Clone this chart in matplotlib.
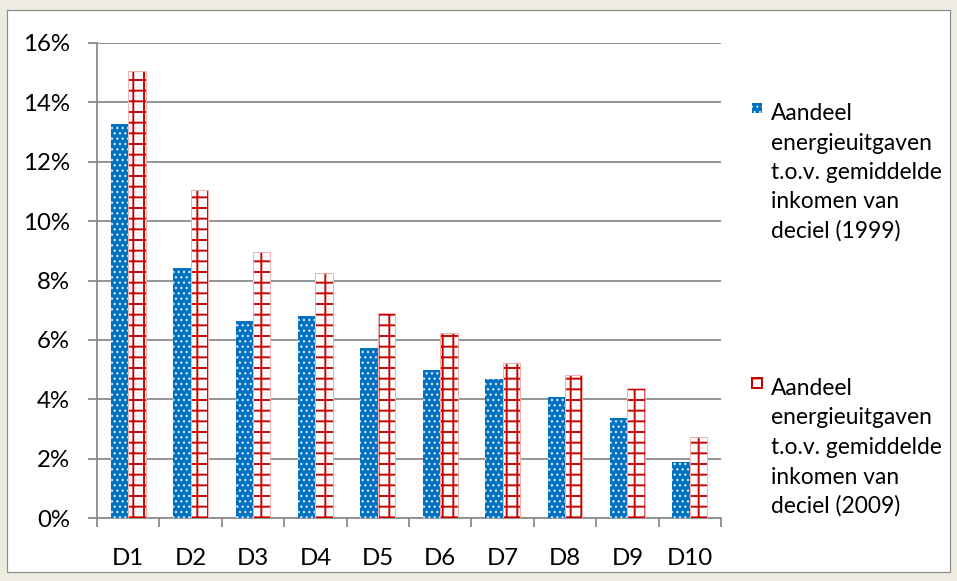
import matplotlib
matplotlib.use("Agg")
import matplotlib.pyplot as plt
from matplotlib.patches import Rectangle
import numpy as np

categories = ["D1", "D2", "D3", "D4", "D5", "D6", "D7", "D8", "D9", "D10"]
share_1999 = [13.25, 8.42, 6.64, 6.80, 5.72, 4.99, 4.68, 4.07, 3.36, 1.90]
share_2009 = [15.05, 11.04, 8.97, 8.24, 6.92, 6.22, 5.21, 4.81, 4.37, 2.72]
legend_1999 = ["Aandeel", "energieuitgaven", "t.o.v. gemiddelde", "inkomen van", "deciel (1999)"]
legend_2009 = ["Aandeel", "energieuitgaven", "t.o.v. gemiddelde", "inkomen van", "deciel (2009)"]
yticks = [0, 2, 4, 6, 8, 10, 12, 14, 16]

DPI = 64
W, H = 957, 581
PT = 72.0 / DPI  # points per pixel

plt.rcParams['font.family'] = ['Lato', 'DejaVu Sans']
BLUE = '#0070C0'
RED = '#C80000'
GRID = '#8C8C8C'
FS = 24 * PT
FS_LEG = 22.7 * PT

fig = plt.figure(figsize=(W / DPI, H / DPI), dpi=DPI)
fig.patch.set_facecolor('#EEECE1')

# white chart area
fig.add_artist(Rectangle((7.5 / W, 1 - 572 / H), 942.5 / W, 562.5 / H,
                         transform=fig.transFigure, facecolor='white',
                         edgecolor='#8A8A8A', linewidth=1.2 * PT, zorder=0))

left, right, top, bottom = 97 / W, 721 / W, 1 - 42.7 / H, 1 - 518.3 / H
ax = fig.add_axes([left, bottom, right - left, top - bottom])
ax.set_facecolor('none')

x = np.arange(len(categories))
bw = 0.28

with plt.rc_context({'hatch.linewidth': 1.4 * PT}):
    ax.bar(x - bw / 2, share_1999, width=bw, color=BLUE, edgecolor='#CFE4F7',
           linewidth=0, hatch='..', zorder=3)
with plt.rc_context({'hatch.linewidth': 1.9 * PT}):
    ax.bar(x + bw / 2, share_2009, width=bw, facecolor='white', edgecolor=RED,
           linewidth=0, hatch='+', zorder=3)
ax.bar(x + bw / 2, share_2009, width=bw, facecolor='none', edgecolor='#F2B0B0',
       linewidth=1.0 * PT, zorder=4)

ax.set_xlim(-0.5, len(categories) - 0.5)
ax.set_ylim(0, 16)
ax.set_yticks(yticks)
ax.set_yticklabels([f"{v}%" for v in yticks])
ax.yaxis.grid(True, color=GRID, linewidth=1.8 * PT, zorder=1)
ax.set_axisbelow(True)

ax.set_xticks(np.arange(len(categories) + 1) - 0.5)
ax.set_xticklabels([])
ax.set_xticks(x, minor=True)
ax.set_xticklabels(categories, minor=True)
ax.tick_params(axis='x', which='major', direction='out', length=9 * PT,
               width=1.8 * PT, color=GRID)
ax.tick_params(axis='x', which='minor', length=0, pad=30 * PT, labelsize=FS)
ax.tick_params(axis='y', direction='out', length=9 * PT, width=1.8 * PT,
               color=GRID, pad=18 * PT, labelsize=FS)

for s in ['top', 'right']:
    ax.spines[s].set_visible(False)
for s in ['left', 'bottom']:
    ax.spines[s].set_color(GRID)
    ax.spines[s].set_linewidth(1.8 * PT)

# legend (manual, Excel-like)
tx = 771 / W
line_dy = 29.5
for lines, base, style in [(legend_1999, 120, 'blue'), (legend_2009, 395, 'red')]:
    for i, t in enumerate(lines):
        fig.text(tx, 1 - (base + i * line_dy) / H, t, fontsize=FS_LEG, ha='left',
                 va='baseline', color='black')
    mx, my, ms = 752, base - 17, 9.5
    if style == 'blue':
        with plt.rc_context({'hatch.linewidth': 1.2 * PT}):
            fig.add_artist(Rectangle((mx / W, 1 - (my + ms) / H), ms / W, ms / H,
                                     transform=fig.transFigure, facecolor=BLUE,
                                     edgecolor='#CFE4F7', linewidth=0, hatch='..'))
    else:
        with plt.rc_context({'hatch.linewidth': 1.5 * PT}):
            fig.add_artist(Rectangle((mx / W, 1 - (my + ms) / H), ms / W, ms / H,
                                     transform=fig.transFigure, facecolor='white',
                                     edgecolor=RED, linewidth=2 * PT, hatch='-'))

fig.savefig('out.png', dpi=DPI, facecolor=fig.get_facecolor())
